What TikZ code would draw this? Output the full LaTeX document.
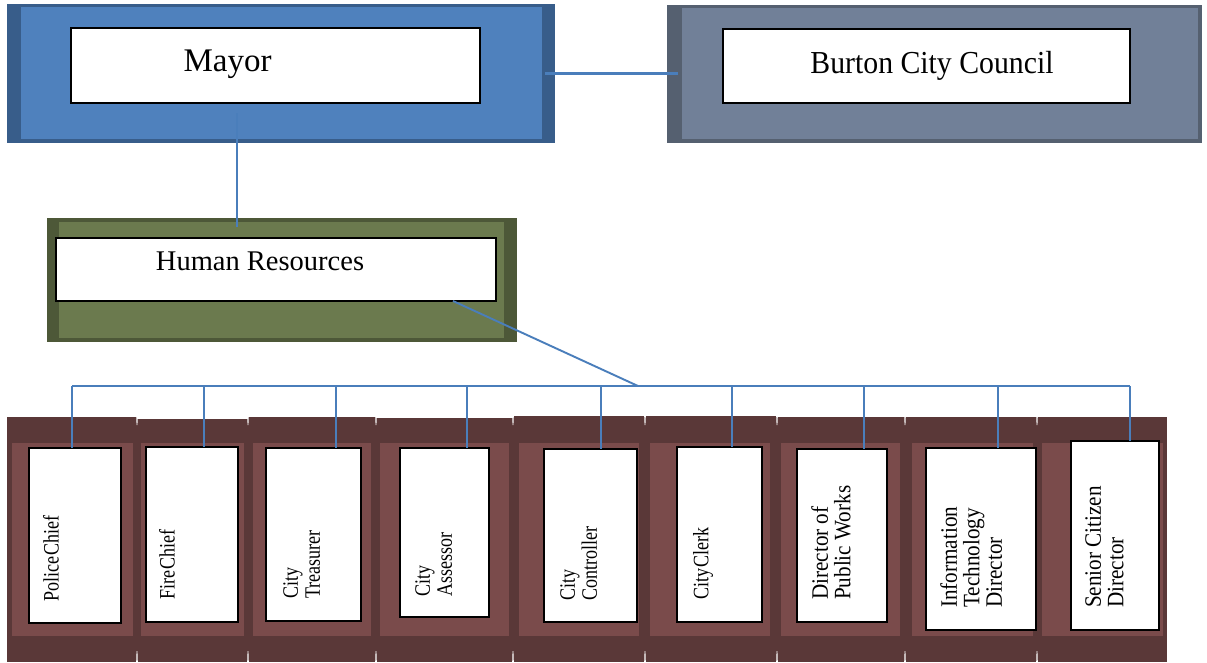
\documentclass[tikz,border=0pt]{standalone}
\usepackage{fontspec}
\setmainfont{Liberation Serif}
\newfontfamily\condserif[FakeStretch=0.82,WordSpace=0.25]{Liberation Serif}
\newfontfamily\midserif[FakeStretch=0.93]{Liberation Serif}
\newfontfamily\labserif[FakeStretch=0.9]{Liberation Serif}
\usetikzlibrary{calc}
\definecolor{blueL}{HTML}{4F81BD}
\definecolor{blueD}{HTML}{385D8A}
\definecolor{slateL}{HTML}{718098}
\definecolor{slateD}{HTML}{556070}
\definecolor{greenL}{HTML}{6B7A4E}
\definecolor{greenD}{HTML}{4D5838}
\definecolor{brownD}{HTML}{5A3838}
\definecolor{brownL}{HTML}{7A4B4B}
\definecolor{connC}{HTML}{4A7EBB}
\tikzset{
  whitebox/.style={draw=black, fill=white, line width=1.6pt, inner sep=0pt, outer sep=0pt},
  outerbox/.style={inner sep=0pt, outer sep=0pt, draw=none},
  conn/.style={draw=connC, line width=1.4pt},
  vlabel/.style={rotate=90, anchor=north west, inner sep=0pt, align=left},
  bigtext/.style={anchor=base, inner sep=0pt},
  notch/.style={fill=white, draw=none},
}
\newcommand{\wbox}[5]{\node[whitebox, minimum width={#3-#2}, minimum height={#5-#4}] (#1) at ({(#2+#3)/2},{(#4+#5)/2}) {};}
\newcommand{\obox}[6]{\node[outerbox, fill=#6, minimum width={#3-#2}, minimum height={#5-#4}] (#1) at ({(#2+#3)/2},{(#4+#5)/2}) {};}
\newcommand{\condsz}{\condserif\fontsize{22}{22}\selectfont}
\newcommand{\normsz}{\labserif\fontsize{23.5}{22.5}\selectfont}
\newcommand{\notches}[2]{\fill[notch] (#1-0.8,#2) -- (#1+0.8,#2) -- (#1+0.4,#2+9) -- (#1-0.4,#2+9) -- cycle;
  \fill[notch] (#1-0.4,651) -- (#1+0.4,651) -- (#1+0.8,662) -- (#1-0.8,662) -- cycle;}
\begin{document}
\begin{tikzpicture}[x=1pt,y=-1pt]
\useasboundingbox (0,0) rectangle (1207,662);
\fill[white] (0,0) rectangle (1207,662);
% ---- Mayor
\obox{mayorO}{7}{555}{4}{143}{blueD}
\fill[blueL] (21,7) rectangle (542,139);
% ---- Council
\obox{councilO}{667}{1202}{5}{143}{slateD}
\fill[slateL] (682,8) rectangle (1198,139);
% ---- Human Resources
\obox{hrO}{47}{517}{218}{342}{greenD}
\fill[greenL] (59,222) rectangle (504,338);
% ---- columns
\obox{c1}{7}{137}{417}{662}{brownD}
\obox{c2}{137}{248}{419}{662}{brownD}
\obox{c3}{248}{376}{417}{662}{brownD}
\obox{c4}{376}{513}{418}{662}{brownD}
\obox{c5}{513}{645}{416}{662}{brownD}
\obox{c6}{645}{777}{416}{662}{brownD}
\obox{c7}{777}{905}{417}{662}{brownD}
\obox{c8}{905}{1037}{417}{662}{brownD}
\obox{c9}{1037}{1167}{417}{662}{brownD}
\notches{137}{416}
\notches{248}{416}
\notches{376}{416}
\notches{513}{416}
\notches{645}{416}
\notches{777}{416}
\notches{905}{416}
\notches{1037}{416}
\fill[brownL] (12,443) rectangle (133,636);
\fill[brownL] (141,443) rectangle (244,636);
\fill[brownL] (253,443) rectangle (371,636);
\fill[brownL] (380,443) rectangle (509,636);
\fill[brownL] (519,443) rectangle (639,636);
\fill[brownL] (650,443) rectangle (770,636);
\fill[brownL] (781,443) rectangle (900,636);
\fill[brownL] (912,443) rectangle (1033,636);
\fill[brownL] (1042,443) rectangle (1163,636);
% ---- connector coordinates
\coordinate (mayorDrop) at (237,113);
\coordinate (hrTop) at (237,227);
\coordinate (hrOut) at (453,301);
\coordinate (hub) at (638,386);
\coordinate (b1) at (72,386);
\coordinate (b2) at (204,386);
\coordinate (b3) at (336,386);
\coordinate (b4) at (467,386);
\coordinate (b5) at (601,386);
\coordinate (b6) at (732,386);
\coordinate (b7) at (864,386);
\coordinate (b8) at (998,386);
\coordinate (b9) at (1130,386);
% ---- white boxes
\wbox{mayor}{71}{480}{28}{103}
\wbox{council}{723}{1130}{29}{103}
\wbox{hr}{56}{496}{238}{301}
\wbox{w1}{29}{121}{448}{623}
\wbox{w2}{146}{238}{447}{622}
\wbox{w3}{266}{361}{448}{621}
\wbox{w4}{400}{489}{448}{617}
\wbox{w5}{544}{637}{449}{622}
\wbox{w6}{677}{762}{447}{622}
\wbox{w7}{797}{887}{449}{622}
\wbox{w8}{926}{1036}{448}{630}
\wbox{w9}{1071}{1159}{441}{630}
% ---- connectors
\draw[conn, line width=2.4pt] ([xshift=-10pt]mayorO.east) -- ([xshift=11pt]mayorO.east -| councilO.west);
\draw[conn] (mayorDrop) -- (hrTop);
\draw[conn, line width=1.9pt] (hrOut) -- (hub);
\draw[conn, line width=1.2pt] (b1) -- (b9);
\draw[conn] (b1) -- (b1 |- w1.north);
\draw[conn, line width=1.8pt] (b2) -- (b2 |- w2.north);
\draw[conn, line width=1.8pt] (b3) -- (b3 |- w3.north);
\draw[conn, line width=1.8pt] (b4) -- (b4 |- w4.north);
\draw[conn] (b5) -- (b5 |- w5.north);
\draw[conn, line width=1.8pt] (b6) -- (b6 |- w6.north);
\draw[conn] (b7) -- (b7 |- w7.north);
\draw[conn] (b8) -- (b8 |- w8.north);
\draw[conn, line width=2.4pt] (b9) -- (b9 |- w9.north);
% ---- texts
\node[bigtext, font=\fontsize{33}{36}\selectfont] (tMayor) at (227.5,71) {Mayor};
\node[bigtext, font=\midserif\fontsize{32}{36}\selectfont] (tCouncil) at (932,73) {Burton City Council};
\node[bigtext, font=\fontsize{28.5}{32}\selectfont] (tHR) at (260,270) {Human Resources};
\node[vlabel, font=\condsz] (t1) at (43,602) {Police Chief};
\node[vlabel, font=\condsz] (t2) at (159,600) {Fire Chief};
\node[vlabel, font=\condsz] (t3) at (283,599) {City\\Treasurer};
\node[vlabel, font=\condsz] (t4) at (415,597) {City\\Assessor};
\node[vlabel, font=\condsz] (t5) at (560,601) {City\\Controller};
\node[vlabel, font=\condsz] (t6) at (693,600) {City Clerk};
\node[vlabel, font=\normsz] (t7) at (811,600) {Director of\\Public Works};
\node[vlabel, font=\normsz] (t8) at (940,608) {Information\\Technology\\Director};
\node[vlabel, font=\normsz] (t9) at (1085,608) {Senior Citizen\\Director};
\end{tikzpicture}
\end{document}
